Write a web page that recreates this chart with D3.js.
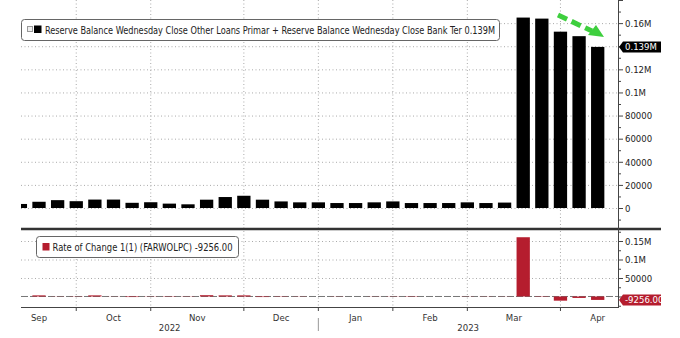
<!DOCTYPE html>
<html><head><meta charset="utf-8">
<script src="https://cdn.jsdelivr.net/npm/d3@7"></script>
<style>
html,body{margin:0;padding:0;background:#fff;}
svg{display:block;}
text{font-family:"DejaVu Sans Condensed","DejaVu Sans",sans-serif;font-stretch:condensed;}
</style></head>
<body>
<svg id="c" width="680" height="338"></svg>
<script>
// ---- data (USD millions) ----
const weeks = ["2022-09-07","2022-09-14","2022-09-21","2022-09-28","2022-10-05","2022-10-12","2022-10-19","2022-10-26",
  "2022-11-02","2022-11-09","2022-11-16","2022-11-23","2022-11-30","2022-12-07","2022-12-14","2022-12-21","2022-12-28",
  "2023-01-04","2023-01-11","2023-01-18","2023-01-25","2023-02-01","2023-02-08","2023-02-15","2023-02-22",
  "2023-03-01","2023-03-08","2023-03-15","2023-03-22","2023-03-29","2023-04-05","2023-04-12"];
const loans = [3500,5400,6800,5900,7300,7300,4500,5000,3800,3200,7200,9500,10600,7200,5700,4900,4900,
  4300,4300,4900,5700,4300,4300,4300,4900,4300,4700,164800,163900,152600,148700,139400];
const rateOfChange = [0,3000,400,-600,3000,300,-1500,500,-800,-600,3500,3000,3000,-1500,-800,-500,0,
  -400,0,400,500,-800,0,0,400,-400,300,160200,-900,-11300,-3900,-9256];
const monthLabels = ["Sep","Oct","Nov","Dec","Jan","Feb","Mar","Apr"];
const monthEnds = ["2022-08-31","2022-09-28","2022-10-26","2022-11-30","2022-12-28","2023-01-25","2023-02-22","2023-03-29","2023-04-26"];
const yearLabels = ["2022","2023"];
const topTicks = [0,20000,40000,60000,80000,100000,120000,140000,160000];
const topTickLabels = [0,20000,40000,60000,80000,100000,120000,160000];
const botTicks = [0,50000,100000,150000];
const botTickLabels = [50000,100000,150000];
const legendTop = "Reserve Balance Wednesday Close Other Loans Primar + Reserve Balance Wednesday Close Bank Ter 0.139M";
const legendBot = "Rate of Change 1(1) (FARWOLPC) -9256.00";
const lastTop = "0.139M", lastBot = "-9256.00";

const parse = d3.timeParse("%Y-%m-%d");
const svg = d3.select("#c");
const L = 21, R = 618, CLIPR = 661;
const x = d3.scaleTime().domain([parse(weeks[0]), parse(weeks[weeks.length-1])]).range([20.38, 597.7]);
const yT = d3.scaleLinear().domain([-17300, 180000]).range([228, 0]);
const yB = d3.scaleLinear().domain([-28400, 178400]).range([307, 230.5]);
const fmt = v => v >= 100000 ? (v/1e6) + "M" : String(v);
const red = "#b51d2e";

const defs = svg.append("defs");
defs.append("clipPath").attr("id","plot").append("rect").attr("x",L).attr("y",0).attr("width",R-L).attr("height",310);
defs.append("clipPath").attr("id","all").append("rect").attr("x",0).attr("y",0).attr("width",CLIPR).attr("height",338);
const g = svg.append("g").attr("clip-path","url(#all)");

// gridlines vertical
const gridX = monthEnds.slice(1).map(d => x(parse(d))).filter(v => v > L && v < R);
g.append("g").selectAll("line").data(gridX).join("line")
  .attr("x1",d=>d).attr("x2",d=>d).attr("y1",0).attr("y2",307)
  .attr("stroke","#aaa").attr("stroke-dasharray","1,2.5");
// horizontal gridlines
g.append("g").selectAll("line").data(topTicks).join("line")
  .attr("x1",L).attr("x2",R).attr("y1",d=>yT(d)+0.5).attr("y2",d=>yT(d)+0.5)
  .attr("stroke","#aaa").attr("stroke-dasharray","1,2.5");
g.append("g").selectAll("line").data(botTicks.filter(d=>d>0)).join("line")
  .attr("x1",L).attr("x2",R).attr("y1",d=>yB(d)+0.5).attr("y2",d=>yB(d)+0.5)
  .attr("stroke","#aaa").attr("stroke-dasharray","1,2.5");
g.append("line").attr("x1",L).attr("x2",R).attr("y1",yB(0)).attr("y2",yB(0))
  .attr("stroke","#777").attr("stroke-dasharray","7,2");

// bars
const bw = 13.3;
const pg = g.append("g").attr("clip-path","url(#plot)");
pg.selectAll("rect.b").data(loans).join("rect").attr("class","b")
  .attr("x",(d,i)=>x(parse(weeks[i]))-bw/2).attr("width",bw)
  .attr("y",d=>yT(d)).attr("height",d=>yT(0)-yT(d)).attr("fill","#000");
pg.selectAll("rect.r").data(rateOfChange).join("rect").attr("class","r")
  .attr("x",(d,i)=>x(parse(weeks[i]))-bw/2).attr("width",bw)
  .attr("y",d=>yB(Math.max(0,d))).attr("height",d=>Math.abs(yB(0)-yB(d))).attr("fill",red);

// frame lines
g.append("line").attr("x1",L).attr("x2",CLIPR).attr("y1",229).attr("y2",229).attr("stroke","#333").attr("stroke-width",2.5);
g.append("line").attr("x1",L).attr("x2",R).attr("y1",307.5).attr("y2",307.5).attr("stroke","#444");
g.append("line").attr("x1",R+0.5).attr("x2",R+0.5).attr("y1",0).attr("y2",308).attr("stroke","#444");

// right axis ticks top
const minorT = d3.range(-10000, 180001, 10000);
g.append("g").selectAll("line").data(minorT).join("line")
  .attr("x1",R).attr("x2",d=> d%20000===0 ? R+5 : R+3).attr("y1",d=>yT(d)+0.5).attr("y2",d=>yT(d)+0.5).attr("stroke","#444");
g.append("g").selectAll("text").data(topTickLabels).join("text")
  .attr("x",R+7).attr("y",d=>yT(d)+0.5).attr("dy","0.35em").attr("font-size",9.5).attr("fill","#222").text(fmt);
const minorB = d3.range(-25000, 175001, 25000);
g.append("g").selectAll("line").data(minorB).join("line")
  .attr("x1",R).attr("x2",d=> d%50000===0 ? R+5 : R+3).attr("y1",d=>yB(d)+0.5).attr("y2",d=>yB(d)+0.5).attr("stroke","#444");
g.append("g").selectAll("text").data(botTickLabels).join("text")
  .attr("x",R+7).attr("y",d=>yB(d)+0.5).attr("dy","0.35em").attr("font-size",9.5).attr("fill","#222").text(fmt);

// last value labels
function lastLabel(yv, fill, txt){
  const h = 11;
  const p = d3.path();
  p.moveTo(R+1, yv); p.lineTo(R+5, yv-h/2); p.lineTo(CLIPR+10, yv-h/2); p.lineTo(CLIPR+10, yv+h/2); p.lineTo(R+5, yv+h/2); p.closePath();
  g.append("path").attr("d",p.toString()).attr("fill",fill);
  g.append("text").attr("x",R+7).attr("y",yv).attr("dy","0.35em").attr("font-size",9.5).attr("fill","#fff").text(txt);
}
lastLabel(yT(loans[loans.length-1]), "#000", lastTop);
lastLabel(yB(rateOfChange[rateOfChange.length-1]), red, lastBot);

// x axis ticks & labels
g.append("g").selectAll("line").data(gridX).join("line")
  .attr("x1",d=>d).attr("x2",d=>d).attr("y1",307).attr("y2",311).attr("stroke","#444");
g.append("g").selectAll("text").data(monthLabels).join("text")
  .attr("x",(d,i)=>(x(parse(monthEnds[i]))+x(parse(monthEnds[i+1])))/2).attr("y",318).attr("dy","0.35em")
  .attr("text-anchor","middle").attr("font-size",9.5).attr("fill","#333").text(d=>d);
const yearSep = x(parse("2022-12-28"));
g.append("line").attr("x1",yearSep).attr("x2",yearSep).attr("y1",318).attr("y2",331).attr("stroke","#999");
g.append("g").selectAll("text").data(yearLabels).join("text")
  .attr("x",(d,i)=> i===0 ? (L+yearSep)/2 : (yearSep+R)/2).attr("y",328).attr("dy","0.35em")
  .attr("text-anchor","middle").attr("font-size",9.5).attr("fill","#333").text(d=>d);

// legends
g.append("rect").attr("x",21.5).attr("y",19.5).attr("width",478).attr("height",21).attr("rx",3)
  .attr("fill","#fff").attr("stroke","#666");
g.append("rect").attr("x",27.5).attr("y",26.5).attr("width",5).attr("height",5).attr("fill","#eee").attr("stroke","#999");
g.append("rect").attr("x",34).attr("y",25.5).attr("width",7.5).attr("height",7.5).attr("fill","#000");
g.append("text").attr("x",45).attr("y",30).attr("dy","0.35em").attr("font-size",10)
  .attr("textLength",450).attr("lengthAdjust","spacingAndGlyphs").attr("fill","#222").text(legendTop);
g.append("rect").attr("x",36.5).attr("y",236.5).attr("width",202).attr("height",21).attr("rx",3)
  .attr("fill","#fff").attr("stroke","#666");
g.append("rect").attr("x",42.5).attr("y",243).attr("width",7).attr("height",7.5).attr("fill",red);
g.append("text").attr("x",52.5).attr("y",247).attr("dy","0.35em").attr("font-size",10)
  .attr("textLength",180).attr("lengthAdjust","spacingAndGlyphs").attr("fill","#222").text(legendBot);

// green dashed arrow annotation
const ag = svg.append("g");
ag.append("line").attr("x1",558).attr("y1",15).attr("x2",592).attr("y2",31)
  .attr("stroke","#3ecf3e").attr("stroke-width",5).attr("stroke-dasharray","10,5");
ag.append("path").attr("d","M604,37 L588,35 L596,25 Z").attr("fill","#3ecf3e");
</script>
</body></html>
